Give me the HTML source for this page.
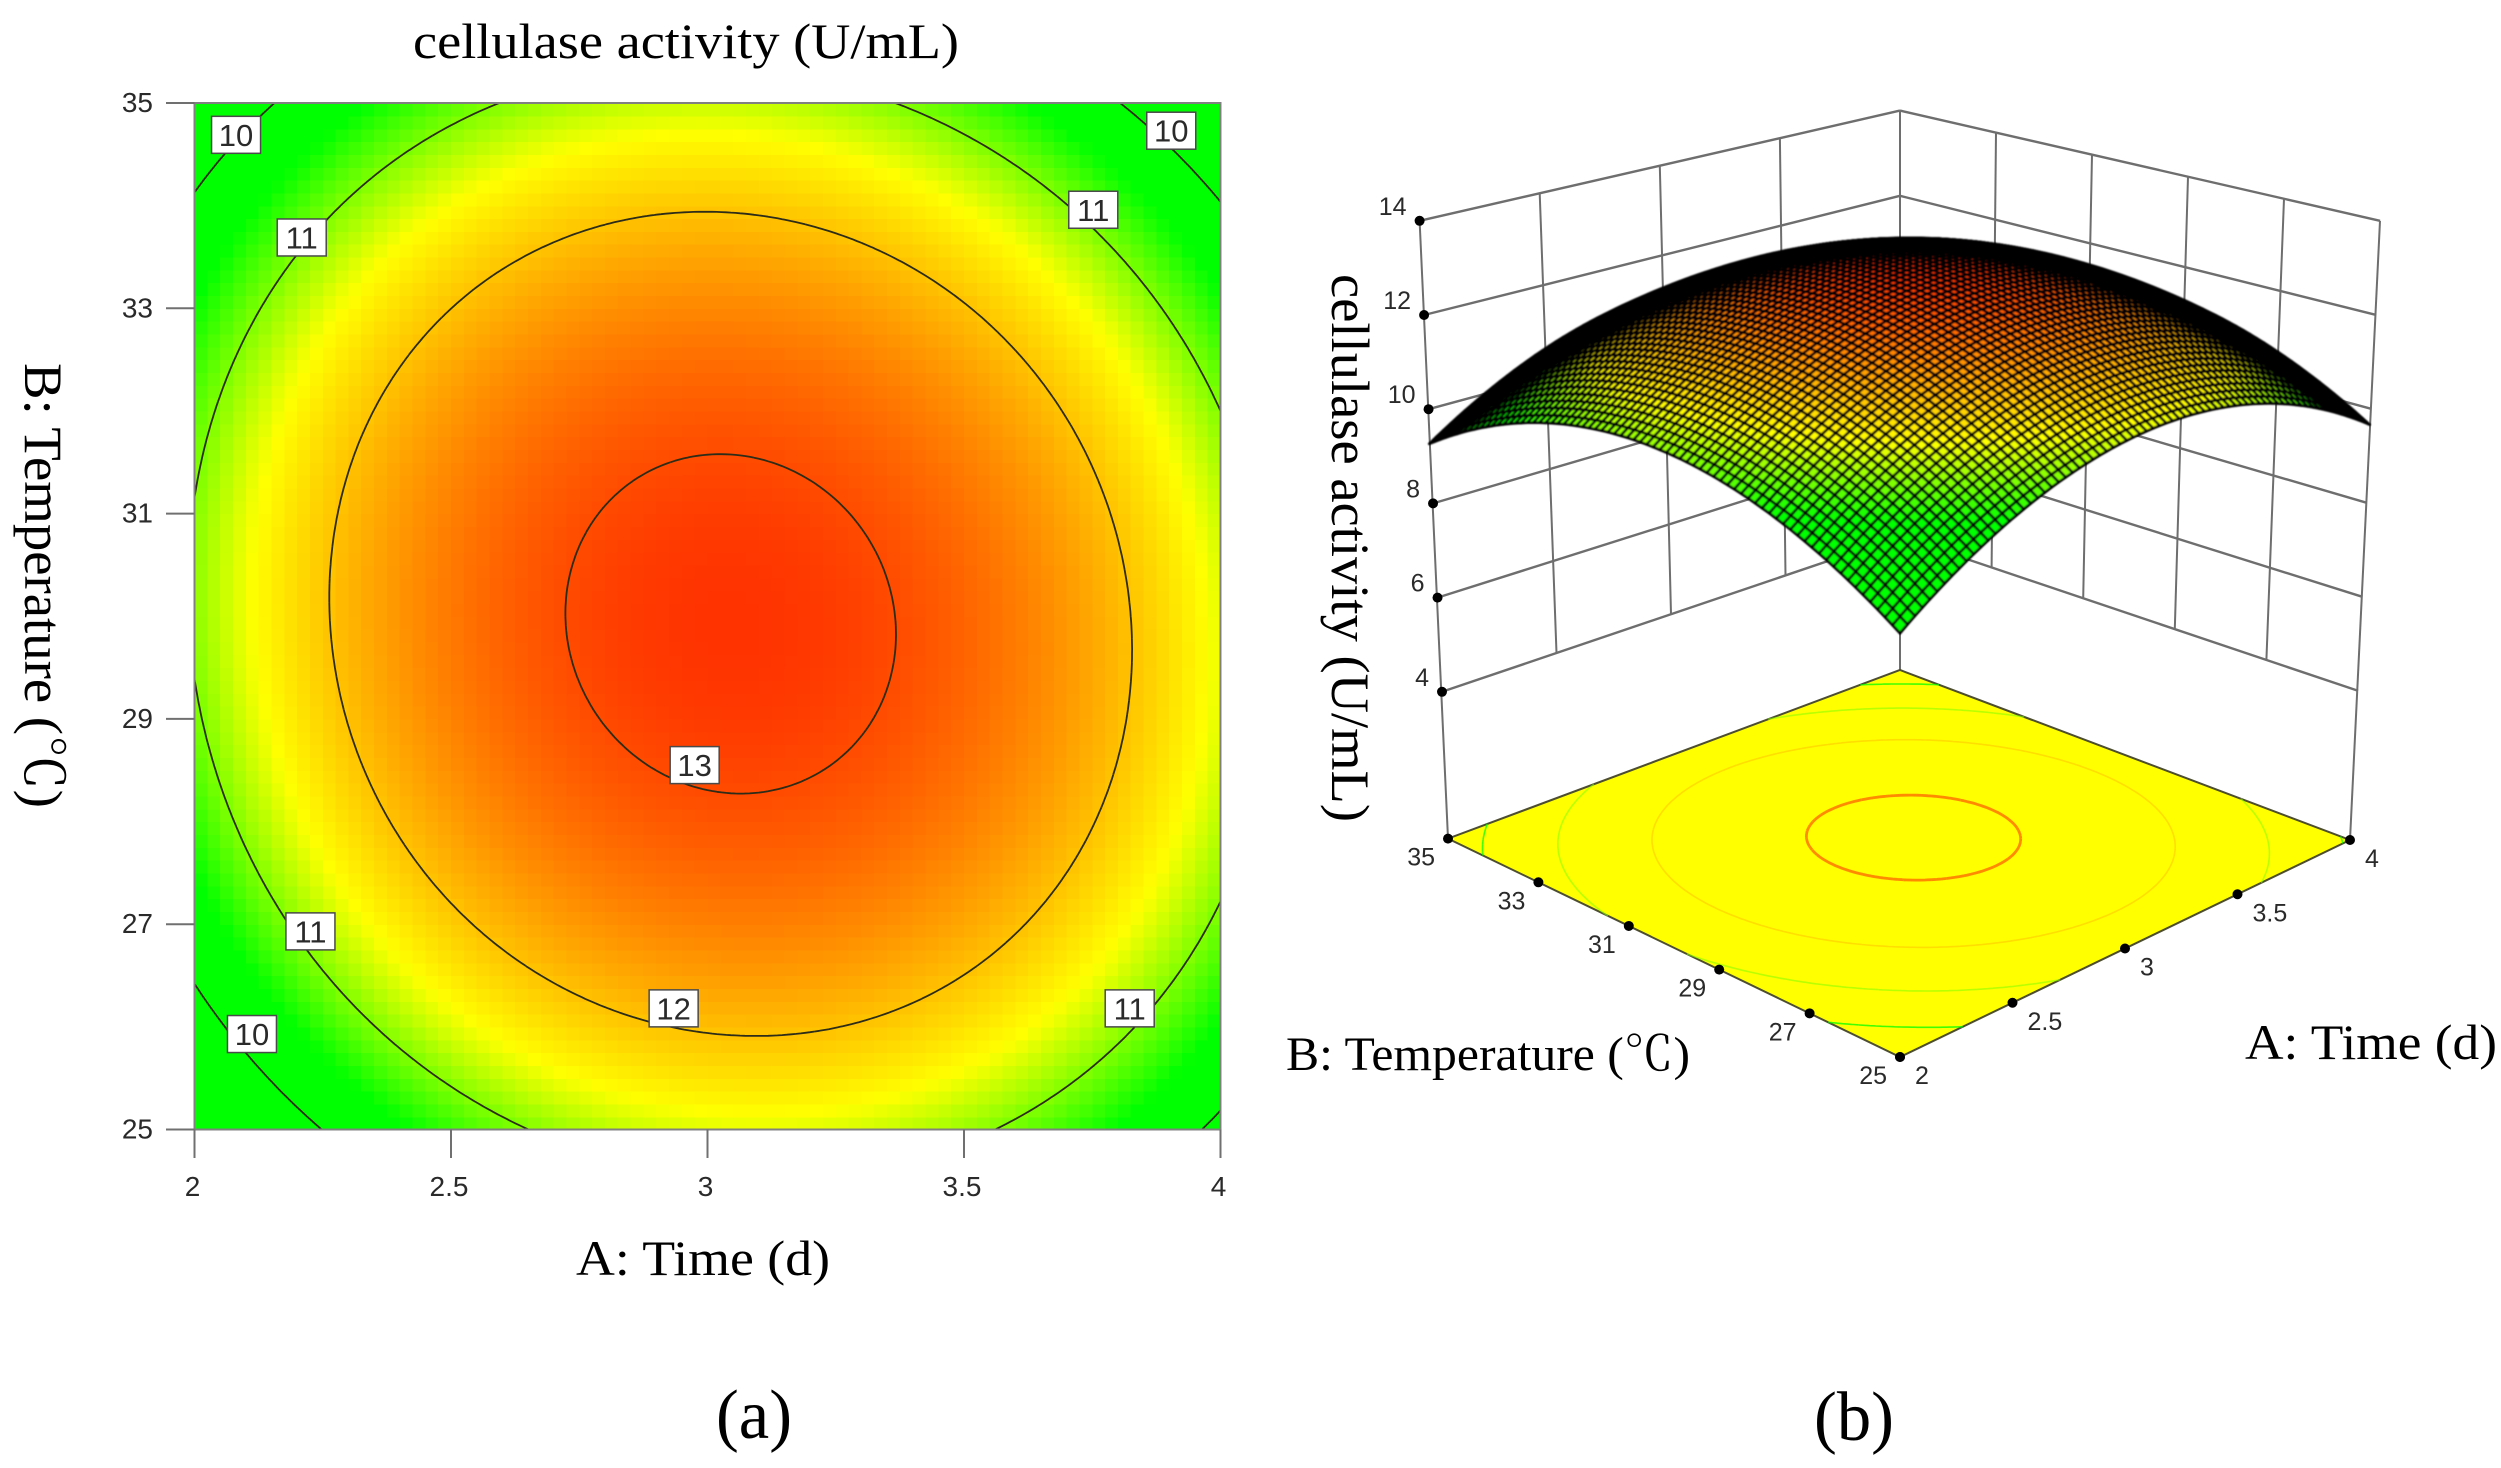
<!DOCTYPE html>
<html lang="en">
<head>
<meta charset="utf-8">
<title>Cellulase activity response surface</title>
<style>
html,body{margin:0;padding:0;background:#fff;}
svg{display:block;}
.serif{font-family:"Liberation Serif","Noto Serif CJK SC",serif;fill:#000;}
.tick{font-family:"Liberation Sans",sans-serif;fill:#2a2a2a;}
</style>
</head>
<body>
<svg id="figure" xmlns="http://www.w3.org/2000/svg" width="2501" height="1468" viewBox="0 0 2501 1468">
  <defs>
    <filter id="meshSoften" x="-5%" y="-5%" width="110%" height="110%"><feGaussianBlur stdDeviation="0.8"/></filter>
  </defs>
  <g id="contourPanel"></g>
  <g id="surfacePanel"></g>

  <text class="serif" x="413" y="58" font-size="50" textLength="546" lengthAdjust="spacingAndGlyphs">cellulase activity (U/mL)</text>
  <text class="serif" x="576" y="1275" font-size="50" textLength="254" lengthAdjust="spacingAndGlyphs">A: Time (d)</text>
  <text class="serif" transform="translate(25,363) rotate(90)" font-size="54" textLength="445" lengthAdjust="spacingAndGlyphs">B: Temperature (℃)</text>
  <text class="serif" x="716" y="1438" font-size="70" textLength="76" lengthAdjust="spacingAndGlyphs">(a)</text>

  <text class="serif" transform="translate(1332,274) rotate(90)" font-size="54" textLength="548" lengthAdjust="spacingAndGlyphs">cellulase activity (U/mL)</text>
  <text class="serif" x="1286" y="1070" font-size="48" textLength="404" lengthAdjust="spacingAndGlyphs">B: Temperature (℃)</text>
  <text class="serif" x="2245" y="1059" font-size="50" textLength="252" lengthAdjust="spacingAndGlyphs">A: Time (d)</text>
  <text class="serif" x="1814" y="1440" font-size="70" textLength="80" lengthAdjust="spacingAndGlyphs">(b)</text>
</svg>
<script>
// Factor levels and the response at those levels.
const timeLevels = [2, 3, 4];
const tempLevels = [25, 30, 35];
const activityAt25 = [9.08, 11.37, 9.88];
const activityAt30 = [11.05, 13.20, 11.40];
const activityAt35 = [9.47, 11.28, 9.32];

// Axis tick labels.
const timeTicks = [2, 2.5, 3, 3.5, 4];
const tempTicks = [25, 27, 29, 31, 33, 35];
const zTicks = [4, 6, 8, 10, 12, 14];
const contourLevels = [10, 11, 12, 13];

// Contour labels (placed at data coordinates).
const labelLevels = [10, 10, 11, 11, 13, 12, 11, 11, 10];
const labelTimes = [2.081, 3.904, 2.209, 3.752, 2.975, 2.934, 2.226, 3.823, 2.112];
const labelTemps = [34.69, 34.73, 33.69, 33.96, 28.55, 26.18, 26.93, 26.18, 25.93];

const NS = 'http://www.w3.org/2000/svg';
const activityRows = [activityAt25, activityAt30, activityAt35];

function make(parent, tag, attrs) {
  const el = document.createElementNS(NS, tag);
  for (const k in attrs) el.setAttribute(k, attrs[k]);
  parent.appendChild(el);
  return el;
}
function basis(nodes, x, i) {
  let r = 1;
  for (let j = 0; j < nodes.length; j++) {
    if (j !== i) r *= (x - nodes[j]) / (nodes[i] - nodes[j]);
  }
  return r;
}
function activity(t, T) {
  let s = 0;
  for (let r = 0; r < tempLevels.length; r++) {
    const bT = basis(tempLevels, T, r);
    for (let c = 0; c < timeLevels.length; c++) {
      s += bT * basis(timeLevels, t, c) * activityRows[r][c];
    }
  }
  return s;
}
function rampColor(v) {
  let r, g;
  if (v <= 10.5) { r = 0; g = 255; }
  else if (v <= 11.5) { r = Math.round(255 * (v - 10.5)); g = 255; }
  else { r = 255; g = Math.max(40, Math.round(255 - (v - 11.5) * 120)); }
  return 'rgb(' + r + ',' + g + ',0)';
}
function isoSegments(level, res, mapper) {
  const tMin = timeTicks[0], tMax = timeTicks[timeTicks.length - 1];
  const TMin = tempTicks[0], TMax = tempTicks[tempTicks.length - 1];
  let d = '';
  const vals = [];
  for (let j = 0; j <= res; j++) {
    const row = [];
    for (let i = 0; i <= res; i++) {
      row.push(activity(tMin + (tMax - tMin) * i / res, TMin + (TMax - TMin) * j / res));
    }
    vals.push(row);
  }
  const dt = (tMax - tMin) / res, dT = (TMax - TMin) / res;
  for (let j = 0; j < res; j++) {
    for (let i = 0; i < res; i++) {
      const t0 = tMin + i * dt, T0 = TMin + j * dT;
      const c = [vals[j][i], vals[j][i + 1], vals[j + 1][i + 1], vals[j + 1][i]];
      const p = [[t0, T0], [t0 + dt, T0], [t0 + dt, T0 + dT], [t0, T0 + dT]];
      const hits = [];
      for (let e = 0; e < 4; e++) {
        const a = c[e], b = c[(e + 1) % 4];
        if ((a < level) !== (b < level)) {
          const f = (level - a) / (b - a);
          const q = p[e], w = p[(e + 1) % 4];
          hits.push(mapper(q[0] + (w[0] - q[0]) * f, q[1] + (w[1] - q[1]) * f));
        }
      }
      if (hits.length >= 2) {
        d += 'M' + hits[0][0].toFixed(1) + ' ' + hits[0][1].toFixed(1) +
             'L' + hits[1][0].toFixed(1) + ' ' + hits[1][1].toFixed(1);
      }
    }
  }
  return d;
}

/* ---------- Panel (a): contour plot ---------- */
const panelA = document.getElementById('contourPanel');
const plotLeft = 194.5, plotRight = 1220.5, plotTop = 103, plotBottom = 1129.5;
function xTime(t) { return plotLeft + (t - 2) / 2 * (plotRight - plotLeft); }
function yTemp(T) { return plotBottom - (T - 25) / 10 * (plotBottom - plotTop); }

const heatCells = 80;
const heatGroup = make(panelA, 'g', {'shape-rendering': 'crispEdges'});


for (let j = 0; j < heatCells; j++) {
  for (let i = 0; i < heatCells; i++) {
    const t0 = 2 + 2 * i / heatCells, t1 = 2 + 2 * (i + 1) / heatCells;
    const T0 = 25 + 10 * j / heatCells, T1 = 25 + 10 * (j + 1) / heatCells;
    const cell = make(heatGroup, 'rect', {
      x: xTime(t0).toFixed(2), y: yTemp(T1).toFixed(2),
      width: (xTime(t1) - xTime(t0) + 0.6).toFixed(2),
      height: (yTemp(T0) - yTemp(T1) + 0.6).toFixed(2),
      fill: rampColor(activity((t0 + t1) / 2, (T0 + T1) / 2))
    });
    
    
  }
}
contourLevels.forEach(function (lv) {
  const line = make(panelA, 'path', {
    d: isoSegments(lv, 220, function (t, T) { return [xTime(t), yTemp(T)]; }),
    fill: 'none', stroke: '#2c2c18', 'stroke-width': 1.8
  });
  
  
});
const frameA = make(panelA, 'rect', {
  x: plotLeft, y: plotTop, width: plotRight - plotLeft, height: plotBottom - plotTop,
  fill: 'none', stroke: '#808080', 'stroke-width': 2
});



tempTicks.forEach(function (T) {
  const tk = make(panelA, 'line', {x1: 166, x2: plotLeft, y1: yTemp(T), y2: yTemp(T), stroke: '#707070', 'stroke-width': 2});
  
  
  const lb = make(panelA, 'text', {'class': 'tick', x: 153, y: yTemp(T) + 9, 'font-size': 28, 'text-anchor': 'end'});
  lb.textContent = T;
  
  
});
timeTicks.forEach(function (t) {
  const tk = make(panelA, 'line', {x1: xTime(t), x2: xTime(t), y1: plotBottom, y2: 1158, stroke: '#707070', 'stroke-width': 2});
  
  
  const lb = make(panelA, 'text', {'class': 'tick', x: xTime(t) - 2, y: 1196, 'font-size': 28, 'text-anchor': 'middle'});
  lb.textContent = t;
  
  
});
labelLevels.forEach(function (lv, i) {
  const cx = xTime(labelTimes[i]), cy = yTemp(labelTemps[i]);
  const box = make(panelA, 'rect', {
    x: cx - 24.5, y: cy - 18.5, width: 49, height: 37,
    fill: '#fff', stroke: '#4a4a4a', 'stroke-width': 1.5
  });
  
  
  const lb = make(panelA, 'text', {'class': 'tick', x: cx, y: cy + 11, 'font-size': 31, 'text-anchor': 'middle'});
  lb.textContent = lv;
  
  
});

/* ---------- Panel (b): 3D surface ---------- */
const panelB = document.getElementById('surfacePanel');
const floorF = [1900, 1057], floorR = [2350, 840], floorL = [1448, 838.6], floorB = [1900, 670];
const zFloor = 0.85, axisX = 1900, lean = 0.000105;
const scaleF = 51.5, scaleL = 45.8, scaleR = 46, scaleB = 43;

const hdx1 = floorR[0] - floorB[0], hdx2 = floorL[0] - floorB[0];
const hdy1 = floorR[1] - floorB[1], hdy2 = floorL[1] - floorB[1];
const hsx = floorF[0] - floorR[0] + floorB[0] - floorL[0];
const hsy = floorF[1] - floorR[1] + floorB[1] - floorL[1];
const hdet = hdx1 * hdy2 - hdx2 * hdy1;
const hg = (hsx * hdy2 - hdx2 * hsy) / hdet;
const hh = (hdx1 * hsy - hsx * hdy1) / hdet;

function floorPoint(a, b) {
  const w = 1 + hg * a + hh * b;
  return [
    ((floorR[0] * (1 + hg) - floorF[0]) * a + (floorL[0] * (1 + hh) - floorF[0]) * b + floorF[0]) / w,
    ((floorR[1] * (1 + hg) - floorF[1]) * a + (floorL[1] * (1 + hh) - floorF[1]) * b + floorF[1]) / w
  ];
}
function project(t, T, z) {
  const a = (t - 2) / 2, b = (T - 25) / 10;
  const f = floorPoint(a, b);
  const s = (1 - a) * (1 - b) * scaleF + a * (1 - b) * scaleR + (1 - a) * b * scaleL + a * b * scaleB;
  const h = (z - zFloor) * s;
  return [f[0] + (f[0] - axisX) * lean * h, f[1] - h];
}
function lerp(p, q, f) { return [p[0] + (q[0] - p[0]) * f, p[1] + (q[1] - p[1]) * f]; }
function leftAxis(z) { return [1419.6 + (14 - z) * 2.24, 220.8 + (14 - z) * 47.1]; }
function rightAxis(z) { return [2380 - (14 - z) * 2.2, 220.8 + (14 - z) * 47]; }
function backAxis(z) { return [1900, 110.6 + (14 - z) * 42.6]; }

const wallStroke = '#6e6e6e';
function wallLine(p, q, name, w) {
  const ln = make(panelB, 'line', {x1: p[0], y1: p[1], x2: q[0], y2: q[1], stroke: wallStroke, 'stroke-width': w});
  
  
}
zTicks.forEach(function (z) {
  wallLine(leftAxis(z), backAxis(z), 'left-wall-gridline', 2.4);
  wallLine(rightAxis(z), backAxis(z), 'right-wall-gridline', 2.4);
});
timeTicks.forEach(function (t) {
  const f = (t - 2) / 2;
  if (f > 0 && f < 1) {
    wallLine(lerp(leftAxis(14), backAxis(14), f), lerp(leftAxis(4), backAxis(4), f), 'left-wall-vertical', 2);
  }
});
tempTicks.forEach(function (T) {
  const f = (T - 25) / 10;
  if (f > 0 && f < 1) {
    wallLine(lerp(rightAxis(14), backAxis(14), f), lerp(rightAxis(4), backAxis(4), f), 'right-wall-vertical', 2);
  }
});
wallLine(leftAxis(14), floorL, 'left-corner-axis', 2);
wallLine(rightAxis(14), floorR, 'right-corner-axis', 2);
wallLine(backAxis(14), floorB, 'back-corner-axis', 2);

const floorPoly = make(panelB, 'polygon', {
  points: [floorF, floorR, floorB, floorL].map(function (p) { return p.join(','); }).join(' '),
  fill: '#ffff00', stroke: '#4d4d30', 'stroke-width': 2
});


contourLevels.forEach(function (lv) {
  const line = make(panelB, 'path', {
    d: isoSegments(lv, 160, function (t, T) { return floorPoint((t - 2) / 2, (T - 25) / 10); }),
    fill: 'none', stroke: rampColor(lv), 'stroke-width': lv === 13 ? 2.8 : 1.6,
    'stroke-opacity': lv === 13 ? 0.65 : (lv === 10 ? 0.75 : 0.55)
  });
  
  
});

function dot(p, name) {
  const c = make(panelB, 'circle', {cx: p[0], cy: p[1], r: 5, fill: '#000'});
  
  
}
zTicks.forEach(function (z) {
  const p = leftAxis(z);
  dot(p, 'z-tick-dot');
  const lb = make(panelB, 'text', {'class': 'tick', x: p[0] - 13, y: p[1] - 6, 'font-size': 25, 'text-anchor': 'end'});
  lb.textContent = z;
  
  
});
tempTicks.forEach(function (T) {
  const p = lerp(floorF, floorL, (T - 25) / 10);
  dot(p, 'temperature-tick-dot');
  const lb = make(panelB, 'text', {'class': 'tick', x: p[0] - 13, y: p[1] + 27, 'font-size': 25, 'text-anchor': 'end'});
  lb.textContent = T;
  
  
});
timeTicks.forEach(function (t) {
  const p = lerp(floorF, floorR, (t - 2) / 2);
  dot(p, 'time-tick-dot');
  const lb = make(panelB, 'text', {'class': 'tick', x: p[0] + 15, y: p[1] + 27, 'font-size': 25, 'text-anchor': 'start'});
  lb.textContent = t;
  
  
});

const meshCells = 72;
const meshGroup = make(panelB, 'g', {stroke: '#000', 'stroke-width': 2.7, 'stroke-linejoin': 'round', filter: 'url(#meshSoften)'});


// Painter's order: back corner (time 4, temp 35) to front corner (time 2, temp 25).
for (let j = meshCells - 1; j >= 0; j--) {
  for (let i = meshCells - 1; i >= 0; i--) {
    const t0 = 2 + 2 * i / meshCells, t1 = 2 + 2 * (i + 1) / meshCells;
    const T0 = 25 + 10 * j / meshCells, T1 = 25 + 10 * (j + 1) / meshCells;
    const corners = [[t0, T0], [t1, T0], [t1, T1], [t0, T1]];
    const pts = corners.map(function (c) {
      return project(c[0], c[1], activity(c[0], c[1])).map(function (n) { return n.toFixed(1); }).join(',');
    }).join(' ');
    const quad = make(meshGroup, 'polygon', {
      points: pts,
      fill: rampColor(activity((t0 + t1) / 2, (T0 + T1) / 2))
    });
    
    
  }
}
</script>
</body>
</html>
